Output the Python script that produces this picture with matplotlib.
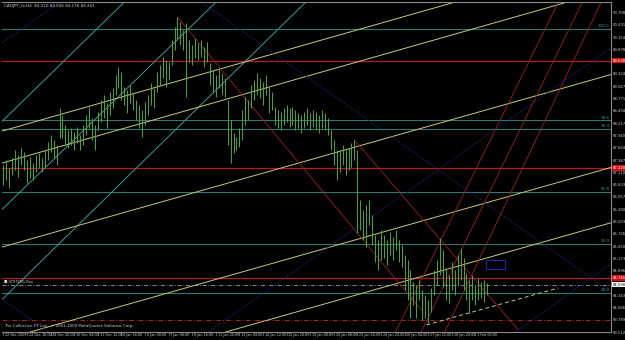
import matplotlib.pyplot as plt

# CADJPY H4 bars (high / low)
highs = [87.29, 87.40, 87.22, 87.44, 87.63, 87.51, 87.67, 87.58, 87.40, 87.47,
         87.33, 87.51, 87.56, 87.44, 87.63, 87.81, 87.96, 87.85, 87.74, 88.57,
         88.41, 88.19, 88.08, 88.12, 88.03, 88.14, 87.96, 88.19, 88.41, 88.59,
         88.35, 88.19, 88.48, 88.75, 88.86, 88.68, 88.93, 89.02, 89.31, 89.49,
         89.38, 89.04, 88.98, 89.09, 88.91, 88.75, 88.64, 88.53, 88.71, 88.86,
         89.13, 89.02, 89.38, 89.54, 89.72, 89.65, 89.61, 90.10, 90.39, 90.62,
         90.51, 90.33, 90.48, 90.10, 89.99, 90.15, 90.03, 90.10, 89.94, 90.06,
         89.58, 89.43, 89.31, 89.47, 89.36, 89.25, 88.75, 88.30, 88.01, 87.92,
         88.12, 88.53, 88.82, 88.75, 89.09, 89.20, 89.36, 89.25, 89.16, 89.31,
         89.04, 88.93, 88.59, 88.53, 88.48, 88.57, 88.64, 88.57, 88.59, 88.53,
         88.46, 88.41, 88.48, 88.57, 88.46, 88.53, 88.48, 88.41, 88.53, 88.46,
         88.35, 88.08, 87.85, 87.63, 87.63, 87.74, 87.63, 87.67, 87.78, 87.85,
         87.63, 86.50, 86.28, 86.39, 86.50, 86.16, 85.71, 85.60, 85.83, 85.71,
         85.60, 85.78, 85.67, 85.83, 85.60, 85.49, 85.26, 85.15, 84.93, 84.66,
         84.59, 84.70, 84.48, 84.36, 84.25, 84.52, 84.93, 85.15, 85.65, 85.38,
         84.97, 84.81, 85.11, 84.93, 85.26, 85.42, 85.20, 84.86, 84.70, 84.81,
         84.59, 84.75, 84.66, 84.70, 84.63]
lows = [86.84, 86.95, 86.77, 87.06, 87.18, 87.02, 87.29, 87.18, 86.88, 86.99,
        86.95, 87.13, 87.22, 87.13, 87.24, 87.40, 87.58, 87.45, 87.29, 87.90,
        87.90, 87.74, 87.67, 87.74, 87.63, 87.78, 87.63, 87.74, 87.96, 88.12,
        87.85, 87.63, 88.08, 88.26, 88.35, 88.12, 88.41, 88.57, 88.86, 89.02,
        88.75, 88.64, 88.46, 88.68, 88.53, 88.30, 88.12, 87.92, 88.19, 88.41,
        88.64, 88.57, 88.93, 89.09, 89.25, 89.04, 89.20, 89.54, 89.88, 90.10,
        89.99, 89.88, 88.82, 89.61, 89.54, 89.70, 89.65, 89.72, 89.49, 89.61,
        89.09, 88.93, 88.82, 89.02, 88.86, 88.82, 87.74, 87.33, 87.56, 87.63,
        87.69, 87.85, 88.19, 88.30, 88.57, 88.75, 88.86, 88.80, 88.64, 88.86,
        88.46, 88.53, 88.19, 88.12, 88.08, 88.19, 88.26, 88.14, 88.19, 88.08,
        88.12, 88.01, 88.12, 88.19, 88.08, 88.14, 88.08, 88.01, 88.12, 88.08,
        87.96, 87.63, 87.29, 86.95, 87.13, 87.29, 87.06, 87.18, 87.24, 87.40,
        85.76, 85.83, 85.60, 85.44, 85.94, 85.49, 85.11, 84.93, 85.15, 85.20,
        85.04, 85.26, 85.15, 85.38, 85.11, 84.99, 84.48, 84.25, 83.85, 84.14,
        83.85, 84.25, 83.80, 83.85, 83.73, 83.98, 84.36, 84.59, 84.81, 84.54,
        84.25, 84.18, 84.48, 84.36, 84.59, 84.70, 84.48, 84.25, 83.96, 84.25,
        84.14, 84.25, 84.30, 84.21, 84.36]

time_ticks = list(range(0, 161, 8))
time_labels = ["22 Dec 2009", "24 Dec 16:00", "28 Dec 20:00", "30 Dec 04:00",
               "31 Dec 12:00", "4 Jan 16:00", "6 Jan 00:00", "7 Jan 08:00",
               "8 Jan 16:00", "11 Jan 20:00", "13 Jan 04:00", "14 Jan 12:00",
               "15 Jan 20:00", "19 Jan 00:00", "20 Jan 08:00", "21 Jan 16:00",
               "24 Jan 20:00", "26 Jan 04:00", "27 Jan 12:00", "28 Jan 20:00",
               "1 Feb 00:00"]

price_ticks = [90.708, 90.431, 90.154, 89.878, 89.601, 89.324, 89.047, 88.771,
               88.494, 88.217, 87.940, 87.664, 87.387, 87.110, 86.833, 86.557,
               86.280, 86.003, 85.726, 85.450, 85.173, 84.896, 84.619, 84.343,
               84.066, 83.789, 83.512]

fib_prices = [90.35, 88.29, 88.09, 86.68, 85.51, 84.41]
fib_labels = ["100.0", "78.6", "76.4", "61.8", "50.0", "38.2"]
red_levels = [89.63, 87.22, 84.745]
red_dash_level = 83.80
bid = 84.59

# (bar, price) anchor pairs of the drawn objects
teal_lines = [((0, 88.30), (40, 90.89)), ((0, 86.32), (40, 88.89)),
              ((0, 84.29), (40, 86.89))]
yellow_lines = [((0, 88.06), (100, 89.95)), ((0, 87.34), (100, 89.23)),
                ((0, 85.45), (100, 87.33)), ((0, 83.36), (100, 85.24)),
                ((111.2, 84.205), (196, 85.80))]
yellow_dash = ((143.4, 83.69), (188.1, 84.52))
red_segments = [((59.3, 90.595), (141.7, 84.025)), ((119, 87.85), (174.6, 83.575))]
red_rays = [((133.3, 83.58), (188.5, 91.0)), ((142.0, 83.58), (196.6, 91.0)),
            ((150.0, 83.58), (203.0, 91.0))]
navy_lines = [((66.1, 91.0), (206, 84.43)), ((0, 84.25), (60, 81.43)),
              ((173, 83.50), (206, 85.07)), ((70.9, 83.60), (206, 89.92)),
              ((0, 90.06), (20, 91.0))]

BG = "black"
BAR = "#4aa83c"
TEAL_H = "#2f7a70"
TEAL = "#3a9a9a"
YEL = "#c8c87a"
RED = "#9a2020"
NAVY = "#23237a"
TXT = "#d0d0d0"

fig = plt.figure(figsize=(6.25, 3.4), dpi=100, facecolor=BG)
ax = fig.add_axes([0.0032, 0.0235, 0.9744, 0.9706], facecolor=BG)
ax.set_xlim(-0.5, 206.0)
ax.set_ylim(83.53, 90.955)

for p in fib_prices:
    ax.axhline(p, color=TEAL_H, lw=0.8, zorder=1)
for p, lab in zip(fib_prices, fib_labels):
    ax.text(205.5, p + 0.02, lab, color=TEAL, fontsize=3, ha="right", va="bottom")
for p in red_levels:
    ax.axhline(p, color="#b02020", lw=0.9, zorder=1)
ax.axhline(red_dash_level, color="#b02020", lw=0.7, ls=(0, (5, 2, 1, 2)), zorder=1)
ax.axhline(bid, color="#a0a0a0", lw=0.6, ls=(0, (5, 2, 1, 2)), zorder=1)

for a, b in teal_lines:
    ax.axline(a, b, color=TEAL, lw=0.7, zorder=1)
for a, b in yellow_lines:
    ax.axline(a, b, color=YEL, lw=0.7, zorder=1)
ax.plot([yellow_dash[0][0], yellow_dash[1][0]], [yellow_dash[0][1], yellow_dash[1][1]],
        color=YEL, lw=0.7, ls=(0, (4, 3)), zorder=1)
for a, b in red_segments:
    ax.plot([a[0], b[0]], [a[1], b[1]], color=RED, lw=0.6, zorder=1)
for a, b in red_rays:
    ax.axline(a, b, color=RED, lw=0.6, zorder=1)
for a, b in navy_lines:
    ax.axline(a, b, color=NAVY, lw=0.7, ls=(0, (1.5, 1.5)), zorder=1)

ax.add_patch(plt.Rectangle((163.5, 84.95), 6.5, 0.2, fill=False, ec="#2a2ab0", lw=0.7, zorder=2))

bars = list(range(len(highs)))
ax.vlines(bars, lows, highs, color=BAR, lw=0.7, zorder=3)

for s in ax.spines.values():
    s.set_color("#8a8a8a")
    s.set_linewidth(0.8)
ax.spines["left"].set_visible(False)
ax.set_xticks([])
ax.set_yticks([])

for t, lab in zip(time_ticks, time_labels):
    ax.text(t + 0.6, 83.50, lab, color=TXT, fontsize=2.4, ha="left", va="top",
            clip_on=False)
    ax.plot([t, t], [83.53, 83.47], color="#8a8a8a", lw=0.5, clip_on=False)
for p in price_ticks:
    ax.text(206.6, p, "%.3f" % p, color=TXT, fontsize=2.7, ha="left", va="center",
            clip_on=False)
for p in red_levels:
    ax.text(206.6, p, "%.3f" % p, color="white", fontsize=2.7, ha="left", va="center",
            clip_on=False, bbox=dict(boxstyle="square,pad=0.15", fc="#d01010", ec="none"))
ax.text(206.6, bid, "%.3f" % bid, color="black", fontsize=2.7, ha="left", va="center",
        clip_on=False, bbox=dict(boxstyle="square,pad=0.15", fc="white", ec="none"))

ax.text(0.3, 90.90, "CADJPY_fx,H4  84.220 84.606 84.176 84.201", color=TXT,
        fontsize=3, ha="left", va="top")
ax.text(0.3, 83.62, "The Collective FX Ltd., \u00a9 2001-2009 MetaQuotes Software Corp.",
        color=TXT, fontsize=2.9, ha="left", va="bottom")
ax.text(0.3, bid + 0.02, "\u25a0 SYSTEM1 Buy", color=TXT, fontsize=2.6, ha="left",
        va="bottom")

fig.savefig("out.png", dpi=100, facecolor=BG)
